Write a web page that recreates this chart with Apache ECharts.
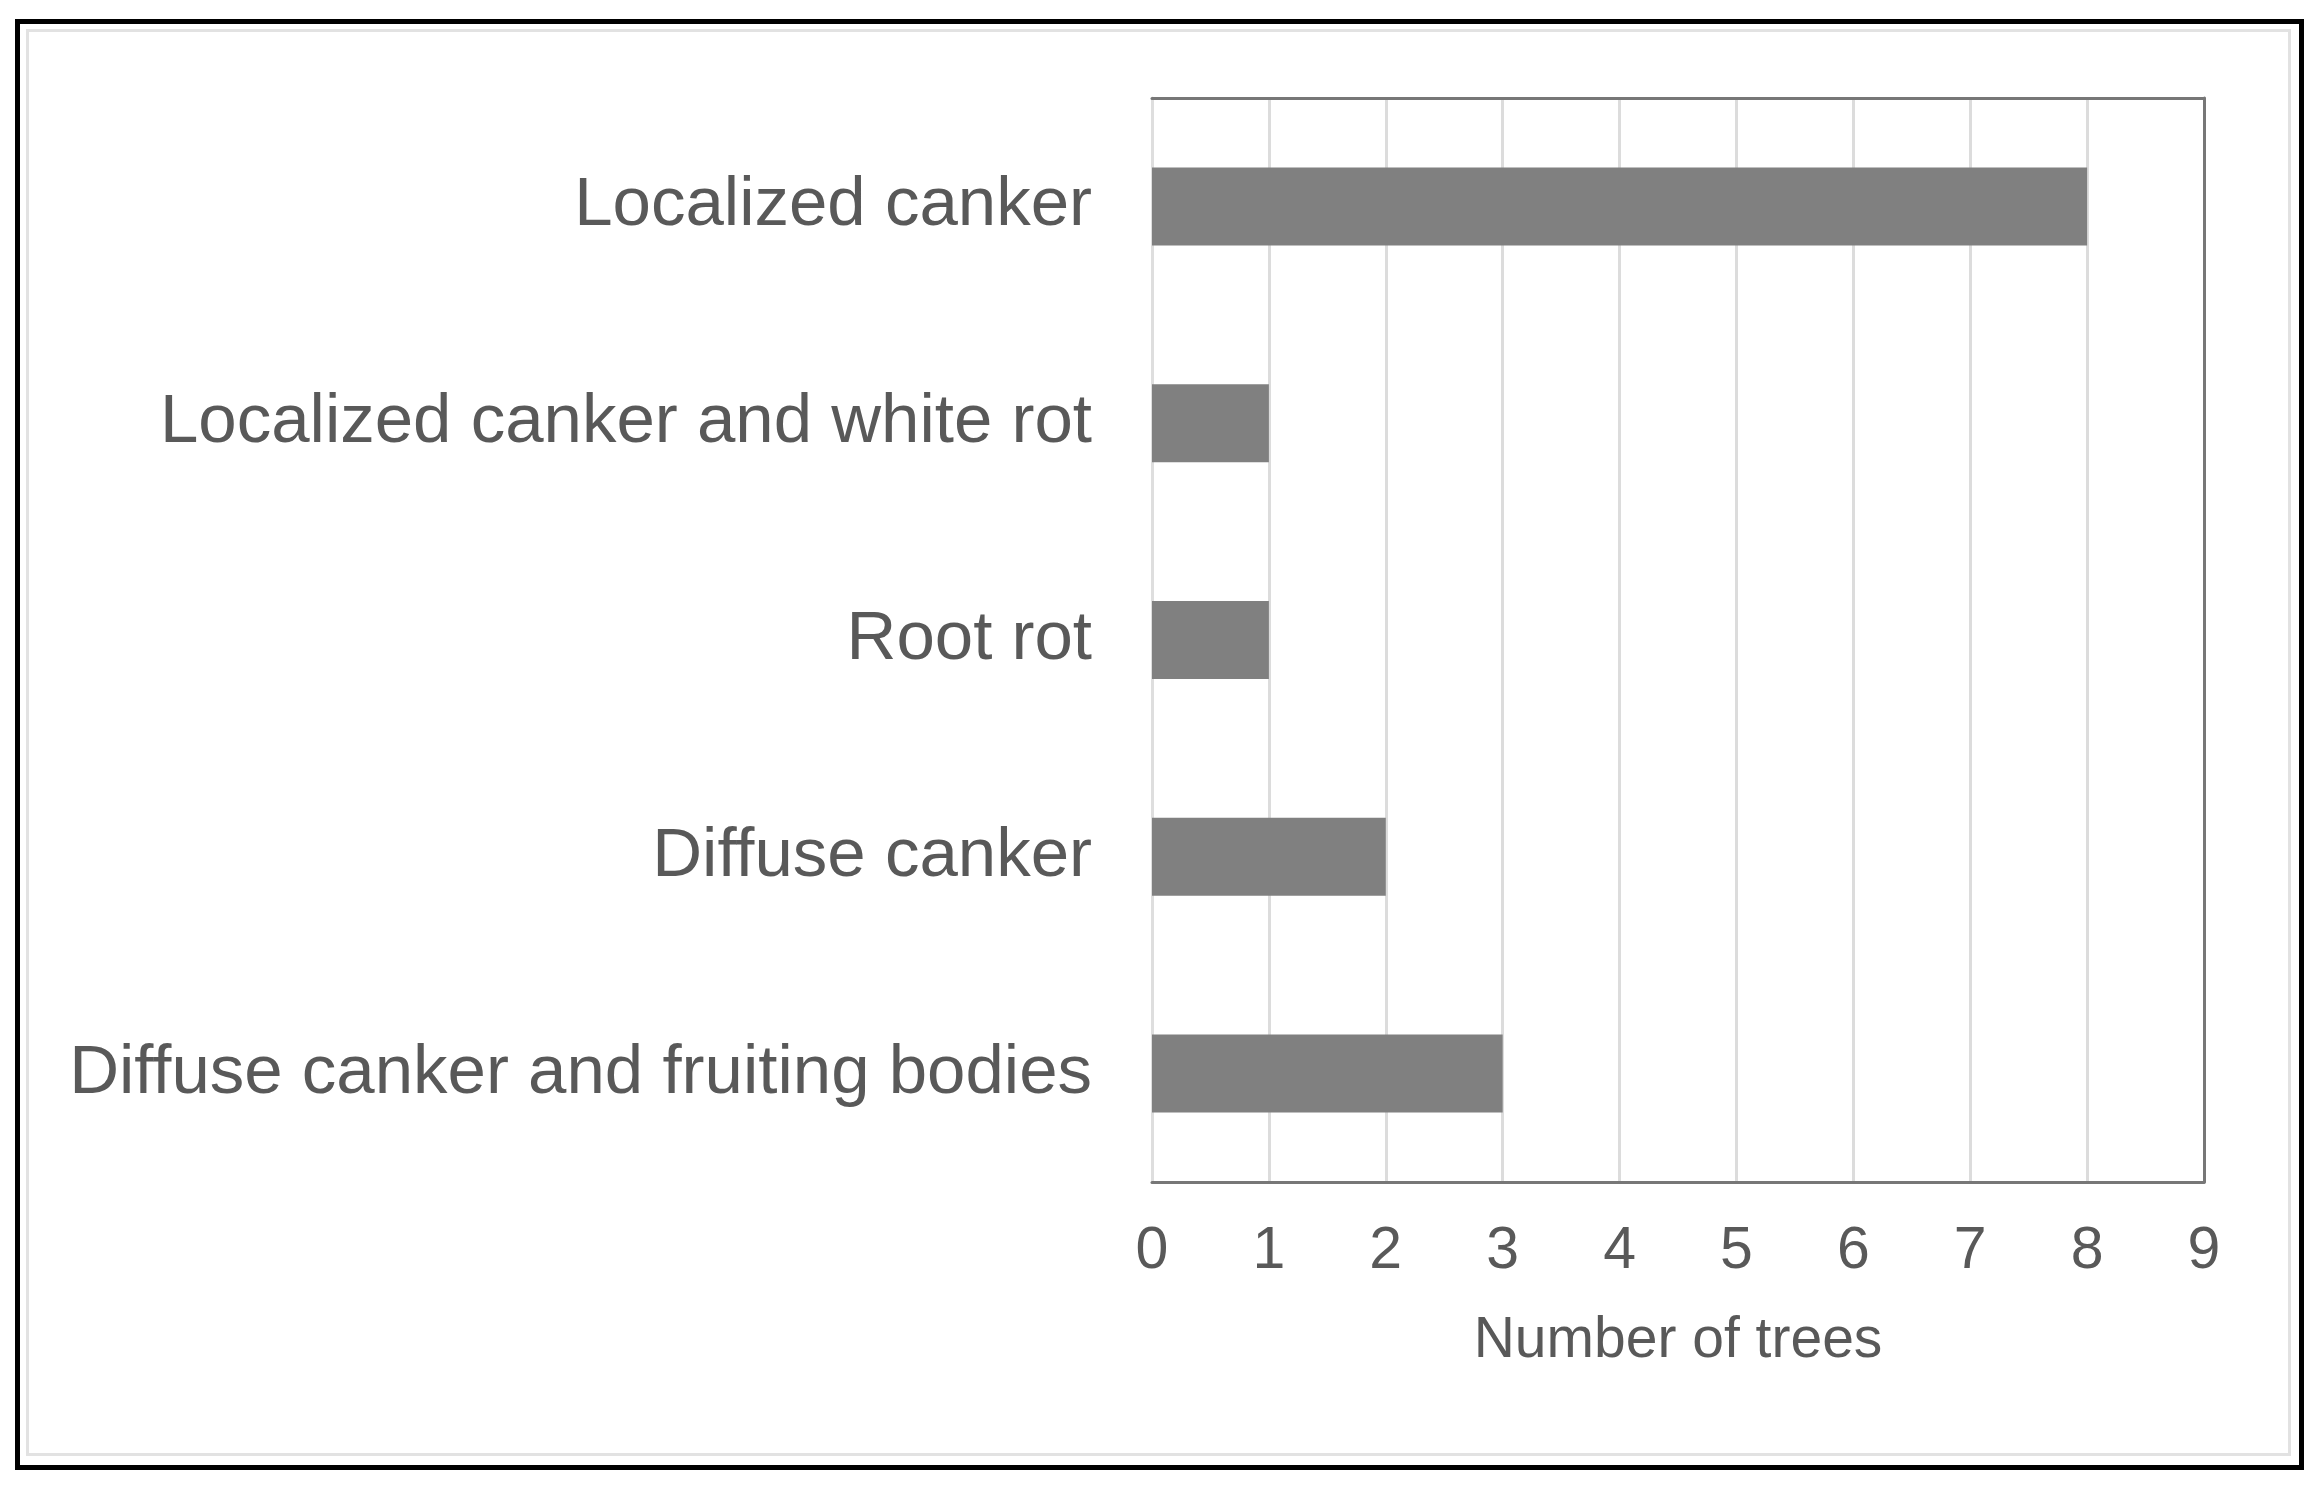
<!DOCTYPE html>
<html>
<head>
<meta charset="utf-8">
<title>Number of trees</title>
<script src="https://cdn.jsdelivr.net/npm/echarts@6/dist/echarts.min.js"></script>
<style>
    html, body { margin: 0; padding: 0; background: #fff; }
    #frameOut { position: absolute; left: 15px; top: 19px; width: 2289px; height: 1451px; box-sizing: border-box; border: 5px solid #000; }
    #frameIn { position: absolute; left: 26px; top: 29px; width: 2265px; height: 1427px; box-sizing: border-box; border: 3px solid #e2e2e2; }
    #treeChart { position: absolute; left: 0; top: 0; width: 2322px; height: 1485px; }
</style>
</head>
<body>
<div id="frameOut"></div>
<div id="frameIn"></div>
<div id="treeChart"></div>
<script>
var categories = ['Localized canker', 'Localized canker and white rot', 'Root rot', 'Diffuse canker', 'Diffuse canker and fruiting bodies'];
var treeCounts = [8, 1, 1, 2, 3];
var xTicks = [0, 9, 1]; // min, max, interval

window.onload = function(){
    treeEcharts();
}
//symptom bar chart
function treeEcharts(){
    var chart = echarts.init(document.getElementById('treeChart'));
    var textColor = '#595959';
    var option = {
        backgroundColor: 'transparent',
        animation: false,
        textStyle: {fontFamily: 'Liberation Sans, Arial, sans-serif'},
        grid: {left: 1152, right: 118, top: 98, bottom: 303},
        xAxis: [
            {
                type: 'value',
                min: xTicks[0],
                max: xTicks[1],
                interval: xTicks[2],
                name: 'Number of trees',
                nameLocation: 'middle',
                nameGap: 131,
                nameTextStyle: {color: textColor, fontSize: 57},
                axisLine: {show: true, onZero: false, lineStyle: {color: '#777', width: 3}},
                axisTick: {show: false},
                axisLabel: {color: textColor, fontSize: 59, margin: 40},
                splitLine: {show: true, lineStyle: {color: '#dcdcdc', width: 3}}
            },
            {
                // top edge of the plot frame
                type: 'value',
                position: 'top',
                min: xTicks[0],
                max: xTicks[1],
                axisLine: {show: true, onZero: false, lineStyle: {color: '#777', width: 3}},
                axisTick: {show: false},
                axisLabel: {show: false},
                splitLine: {show: false}
            }
        ],
        yAxis: [
            {
                type: 'category',
                position: 'left',
                data: categories,
                inverse: true,
                axisLine: {show: true, onZero: false, lineStyle: {color: '#dedede', width: 3}},
                axisTick: {show: false},
                axisLabel: {color: textColor, fontSize: 69, margin: 60, padding: [6, 0, 0, 0]}
            },
            {
                // right edge of the plot frame
                type: 'category',
                position: 'right',
                data: categories,
                inverse: true,
                axisLine: {show: true, onZero: false, lineStyle: {color: '#777', width: 3}},
                axisTick: {show: false},
                axisLabel: {show: false}
            }
        ],
        series: [
            {
                name: 'Number of trees',
                type: 'bar',
                data: treeCounts,
                barCategoryGap: '64%',
                itemStyle: {color: '#808080'}
            }
        ]
    };
    chart.setOption(option);
}
</script>
</body>
</html>
